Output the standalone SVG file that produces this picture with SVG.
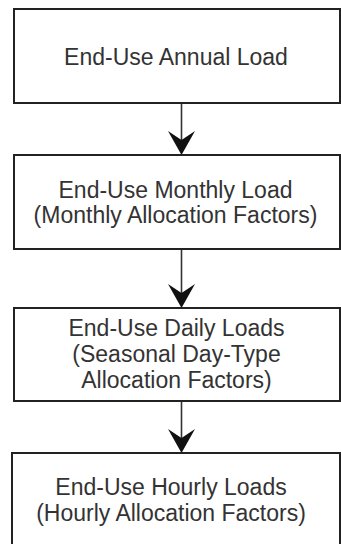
<svg xmlns="http://www.w3.org/2000/svg" width="341" height="544" viewBox="0 0 341 544">
<defs>
<style>
.box{fill:#fff;stroke:#222;stroke-width:2}
.t{font-family:"Liberation Sans",Arial,sans-serif;font-size:23px;fill:#333;text-anchor:middle}
.ln{stroke:#333;stroke-width:1.6;fill:none}
.hd{fill:#111}
</style>
</defs>
<rect width="341" height="544" fill="#fff"/>
<g id="connectors">
<line class="ln" x1="181.5" y1="103" x2="181.5" y2="145"/>
<path class="hd" d="M181.5,155 L168,131 L181.5,140 L195,131 Z"/>
<line class="ln" x1="181.5" y1="249" x2="181.5" y2="298"/>
<path class="hd" d="M181.5,308 L168,284 L181.5,293 L195,284 Z"/>
<line class="ln" x1="181.5" y1="401" x2="181.5" y2="443"/>
<path class="hd" d="M181.5,453 L168,429 L181.5,438 L195,429 Z"/>
</g>
<g id="n1">
<rect class="box" x="14" y="9" width="326" height="94"/>
<text class="t" x="176" y="65">End-Use Annual Load</text>
</g>
<g id="n2">
<rect class="box" x="14" y="155" width="326" height="94"/>
<text class="t" x="175.5" y="198">End-Use Monthly Load</text>
<text class="t" x="175.5" y="223">(Monthly Allocation Factors)</text>
</g>
<g id="n3">
<rect class="box" x="14" y="308" width="326" height="93"/>
<text class="t" x="176.5" y="336">End-Use Daily Loads</text>
<text class="t" x="176.5" y="362">(Seasonal Day-Type</text>
<text class="t" x="176.5" y="388">Allocation Factors)</text>
</g>
<g id="n4">
<rect class="box" x="12" y="453" width="328" height="100"/>
<text class="t" x="171" y="495">End-Use Hourly Loads</text>
<text class="t" x="171" y="521">(Hourly Allocation Factors)</text>
</g>
</svg>
